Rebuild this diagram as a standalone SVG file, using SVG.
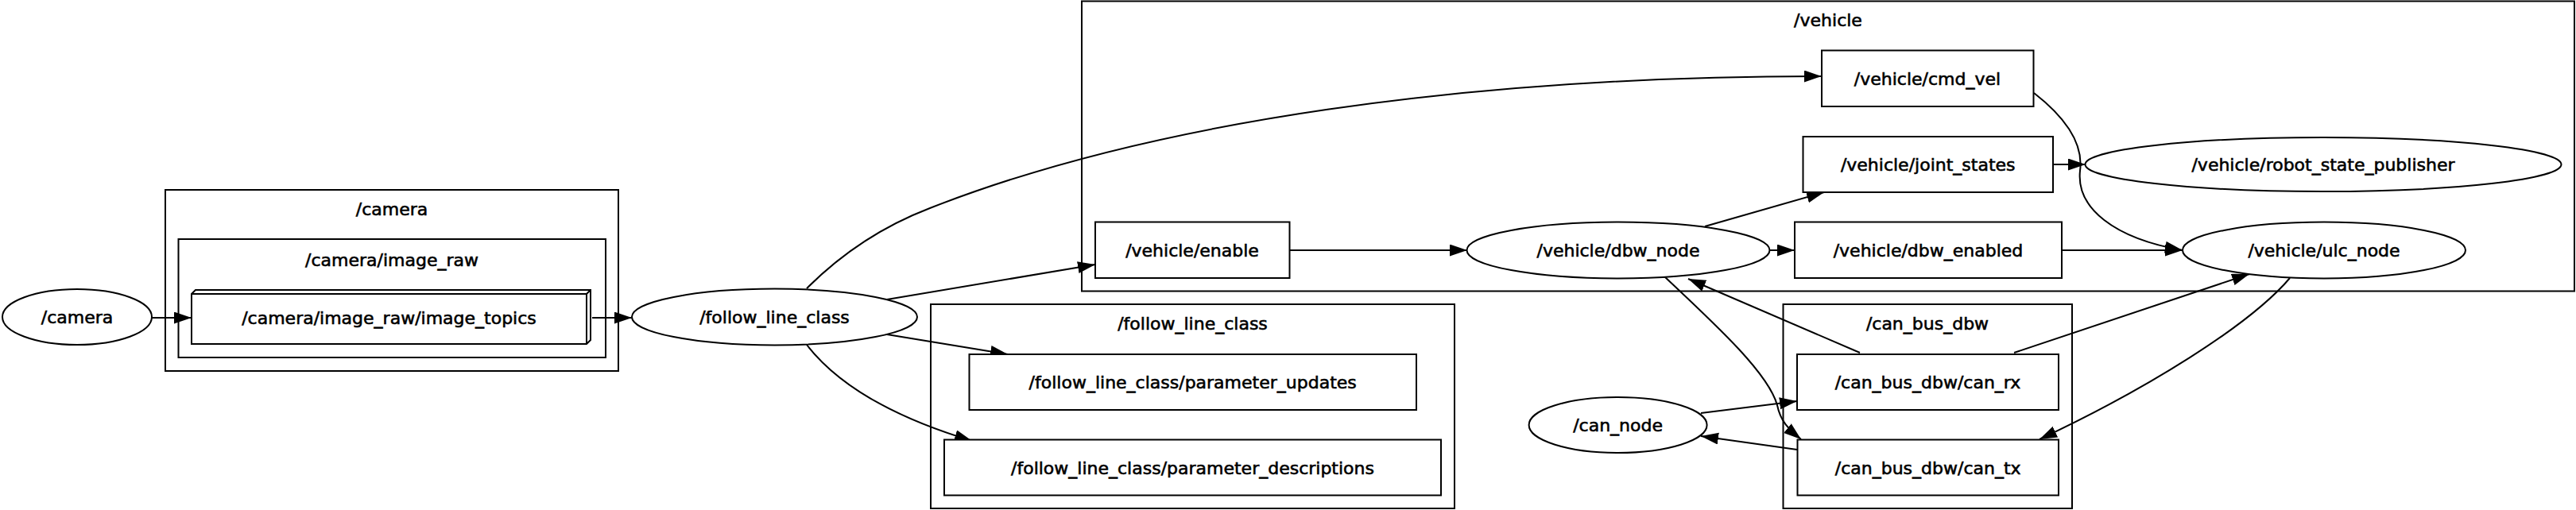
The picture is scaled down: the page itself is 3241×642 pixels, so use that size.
<svg xmlns="http://www.w3.org/2000/svg" width="3241" height="642" viewBox="0 0 3241 642">
<defs>
<marker id="ah" markerUnits="userSpaceOnUse" markerWidth="22" markerHeight="16" refX="22" refY="7.5" orient="auto">
<path d="M0,0 L22,7.5 L0,15 z" fill="#000"/>
</marker>
</defs>
<style>
.cl{fill:none;stroke:#000;stroke-width:2}
.nd{fill:#fff;stroke:#000;stroke-width:2}
.e{fill:none;stroke:#000;stroke-width:2;marker-end:url(#ah)}
text{font-family:"DejaVu Sans",sans-serif;font-size:22px;text-anchor:middle;fill:#000;stroke:#000;stroke-width:0.6}
</style>
<rect width="3241" height="642" fill="#fff"/>
<g id="clusters">
<g id="cluster_camera"><rect class="cl" x="208" y="239" width="570" height="228"/><text x="493" y="271">/camera</text></g>
<g id="cluster_camera_image_raw"><rect class="cl" x="224.5" y="301" width="537.5" height="149"/><text x="493" y="335">/camera/image_raw</text></g>
<g id="cluster_vehicle"><rect class="cl" x="1361" y="1.5" width="1878" height="365"/><text x="2300" y="33">/vehicle</text></g>
<g id="cluster_follow_line_class"><rect class="cl" x="1171" y="383" width="659" height="257"/><text x="1500.5" y="415">/follow_line_class</text></g>
<g id="cluster_can_bus_dbw"><rect class="cl" x="2243.5" y="383" width="363.5" height="257"/><text x="2425" y="415">/can_bus_dbw</text></g>
</g>
<g id="edges">
<path class="e" d="M191,400 L241,400"/>
<path class="e" d="M745,400 L795,400"/>
<path class="e" d="M1116,377 L1378,333"/>
<path class="e" d="M1116,421 L1268,446"/>
<path class="e" d="M1015,434 C1060,492 1140,530 1223,555"/>
<path class="e" d="M1015,363 C1060,318 1110,285 1170,262 C1450,152 1850,96 2292,96"/>
<path class="e" d="M1622.5,315 L1846,315"/>
<path class="e" d="M2145,285 L2295,242"/>
<path class="e" d="M2226.5,315 L2258,315"/>
<path class="e" d="M2559,117 C2595,145 2622,178 2617,215 C2612,262 2660,300 2746,315"/>
<path class="e" d="M2583,207 L2624,207"/>
<path class="e" d="M2594,315 L2746,315"/>
<path class="e" d="M2140,520 L2261,505"/>
<path class="e" d="M2261,566 L2140,549"/>
<path class="e" d="M2340,444 L2124,351"/>
<path class="e" d="M2534,444 L2830,345"/>
<path class="e" d="M2094,348 C2160,410 2225,470 2236,510 C2240,530 2250,540 2266,553"/>
<path class="e" d="M2881,350 C2830,410 2700,490 2566,553"/>
</g>
<g id="n_camera"><ellipse class="nd" cx="97" cy="399" rx="94" ry="35"/><text x="97" y="407">/camera</text></g>
<g id="n_image_topics">
<polygon class="nd" points="241,370 246,365 743,365 743,428 738,433 241,433"/>
<path class="cl" d="M241,370 L738,370 L738,433 M738,370 L743,365"/>
<text x="489.5" y="408">/camera/image_raw/image_topics</text></g>
<g id="n_follow_line_class"><ellipse class="nd" cx="974.5" cy="399" rx="179.5" ry="35.5"/><text x="974.5" y="407">/follow_line_class</text></g>
<g id="n_enable"><rect class="nd" x="1378" y="279.5" width="244.5" height="70.5"/><text x="1500" y="323">/vehicle/enable</text></g>
<g id="n_parameter_updates"><rect class="nd" x="1219.5" y="446" width="562.5" height="70"/><text x="1500.7" y="489">/follow_line_class/parameter_updates</text></g>
<g id="n_parameter_descriptions"><rect class="nd" x="1188" y="553.5" width="625" height="70"/><text x="1500.5" y="597">/follow_line_class/parameter_descriptions</text></g>
<g id="n_dbw_node"><ellipse class="nd" cx="2036" cy="315" rx="190.5" ry="35.5"/><text x="2036" y="323">/vehicle/dbw_node</text></g>
<g id="n_cmd_vel"><rect class="nd" x="2292" y="63.5" width="266.5" height="70.5"/><text x="2425" y="107">/vehicle/cmd_vel</text></g>
<g id="n_joint_states"><rect class="nd" x="2268.5" y="172" width="314.5" height="70"/><text x="2425.7" y="215">/vehicle/joint_states</text></g>
<g id="n_robot_state_publisher"><ellipse class="nd" cx="2923" cy="207" rx="299.5" ry="34"/><text x="2923" y="215">/vehicle/robot_state_publisher</text></g>
<g id="n_dbw_enabled"><rect class="nd" x="2258" y="279.5" width="336" height="70.5"/><text x="2426" y="323">/vehicle/dbw_enabled</text></g>
<g id="n_ulc_node"><ellipse class="nd" cx="2924" cy="315" rx="178" ry="35.5"/><text x="2924" y="323">/vehicle/ulc_node</text></g>
<g id="n_can_rx"><rect class="nd" x="2261" y="446" width="329" height="70"/><text x="2425.5" y="489">/can_bus_dbw/can_rx</text></g>
<g id="n_can_tx"><rect class="nd" x="2261.5" y="553.5" width="328.5" height="70"/><text x="2425.7" y="597">/can_bus_dbw/can_tx</text></g>
<g id="n_can_node"><ellipse class="nd" cx="2035.6" cy="535" rx="112" ry="35"/><text x="2035.6" y="543">/can_node</text></g>
</svg>
